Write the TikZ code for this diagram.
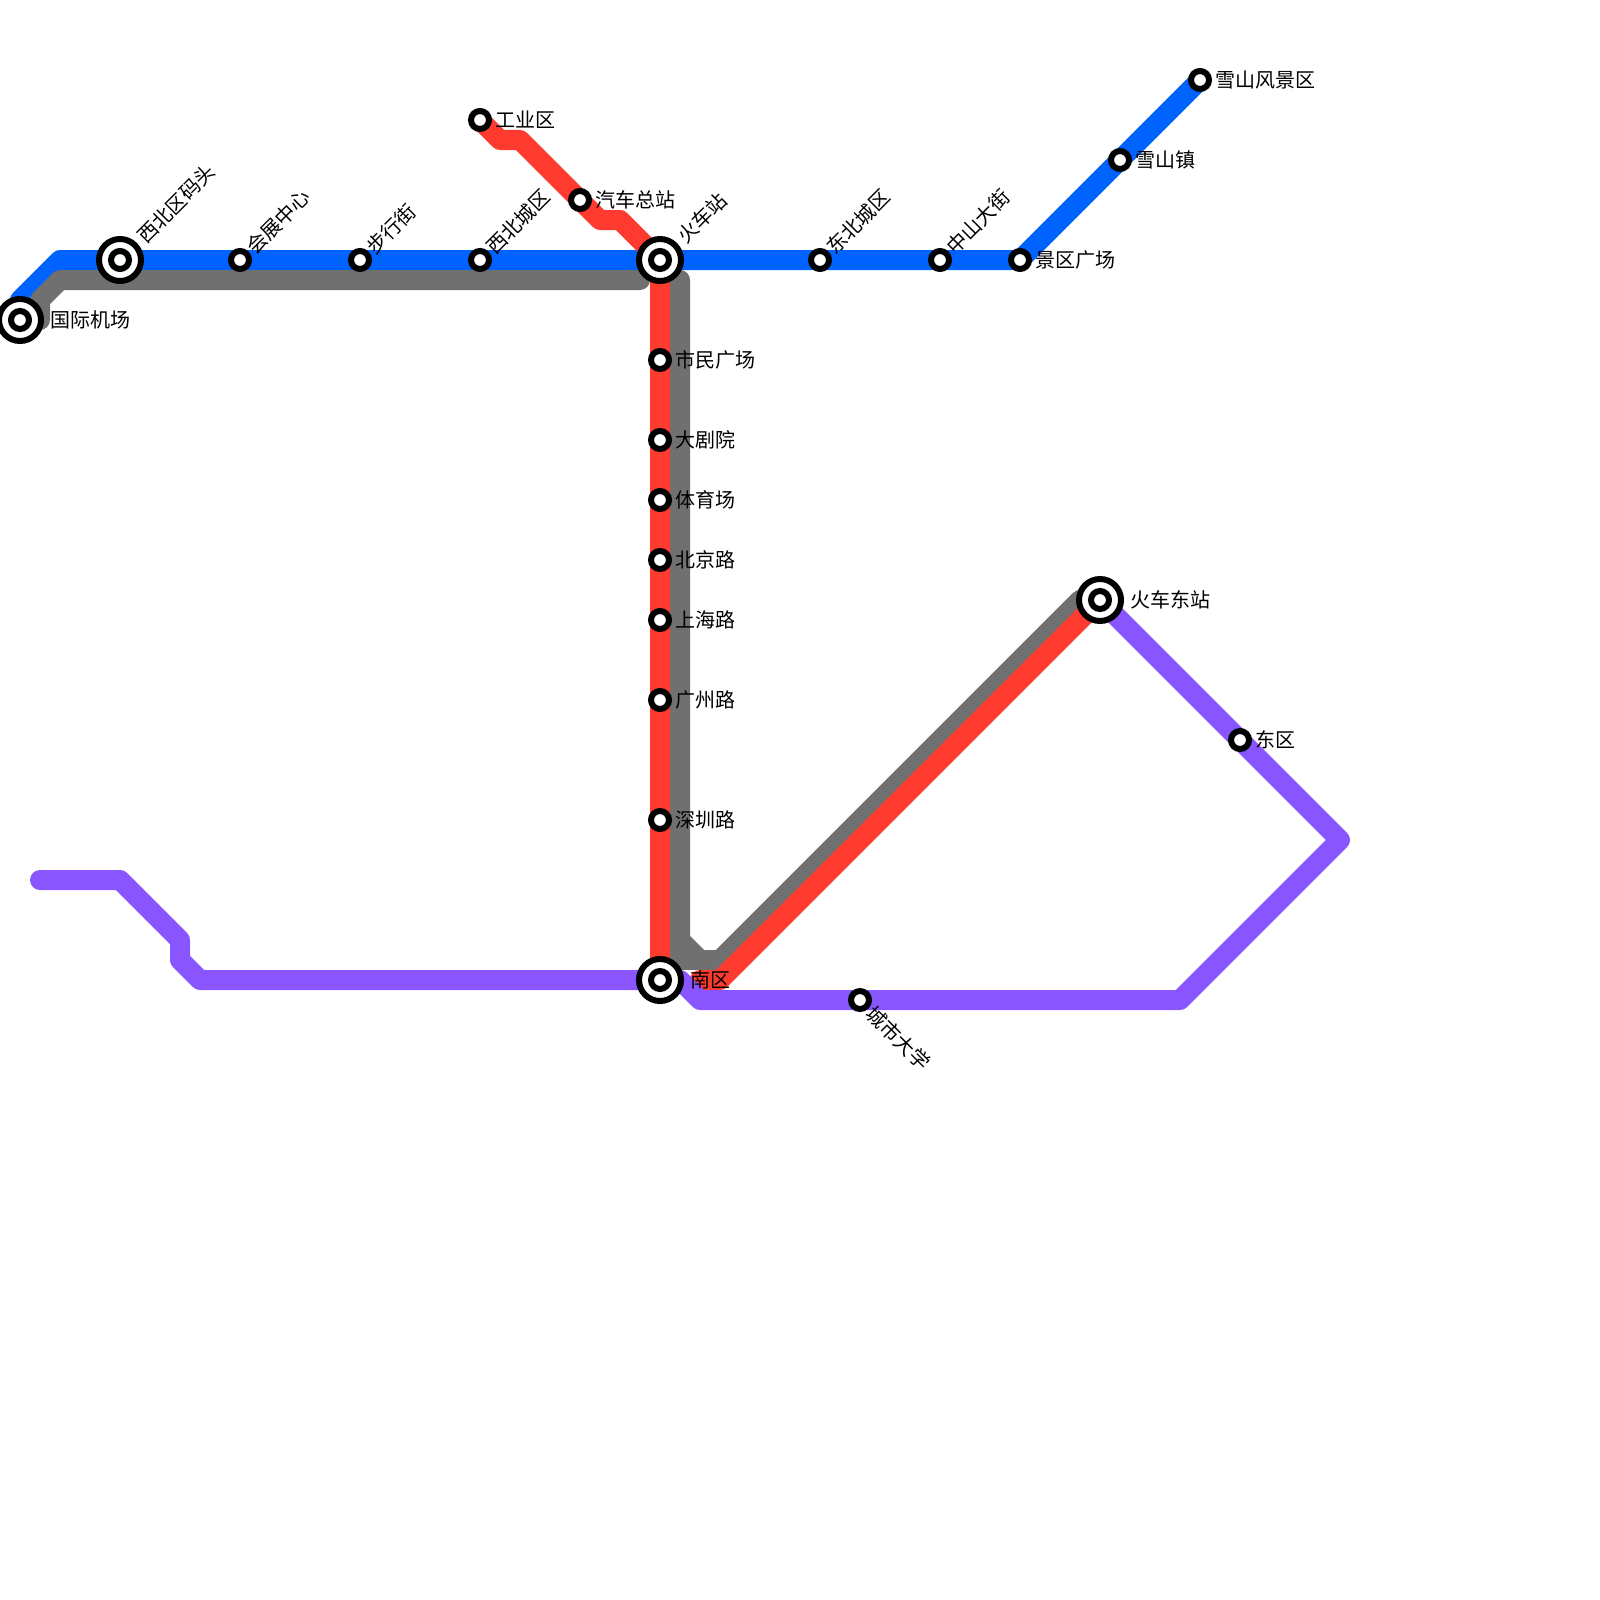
\documentclass[tikz,border=0pt]{standalone}
\usepackage{fontspec}
\setmainfont{Noto Sans CJK SC}
\definecolor{lblue}{HTML}{0062FF}
\definecolor{lred}{HTML}{FF3B30}
\definecolor{lgray}{HTML}{707070}
\definecolor{lpurple}{HTML}{8855FF}
\tikzset{
  metro/.style={line width=20pt,line cap=round,line join=round},
  stsmall/.style={circle,draw=black,fill=white,line width=6pt,minimum size=18pt,inner sep=0pt,outer sep=0pt},
  stbig/.style={circle,draw=black,fill=white,line width=6pt,minimum size=42pt,inner sep=0pt,outer sep=0pt},
  lab/.style={inner sep=0pt,outer sep=0pt,font=\fontsize{20}{24}\selectfont,text=black},
}
\newcommand{\stS}[2]{\node[stsmall] (#1) at (#2) {};}
\newcommand{\stB}[2]{\node[stbig] (#1) at (#2) {}; \node[stsmall] (#1c) at (#2) {};}
\begin{document}
\begin{tikzpicture}[x=1pt,y=-1pt]
\useasboundingbox (0,0) rectangle (1600,1600);
% anchors
\coordinate (ba) at (20,320); \coordinate (bb) at (20,300); \coordinate (bc) at (60,260);
\coordinate (bd) at (1020,260); \coordinate (be) at (1200,80);
\draw[metro,lblue] (ba) -- (bb) -- (bc) -- (bd) -- (be);
\coordinate (ga) at (40,320);\coordinate (gb) at (640,280);\coordinate (gc) at (680,280);
\coordinate (sb) at (1100,600);\coordinate (gd) at (1080,600);
\draw[metro,lgray] (ga) -- (40,300) -- (60,280) -- (gb);
\draw[metro,lgray] (gc) -- (680,940) -- (700,960) -- (720,960) -- (gd);
\draw[metro,lgray] (680,940) -- (680,960) -- (700,960);
\coordinate (ra) at (480,120);\coordinate (sa) at (660,260);\coordinate (sc) at (660,980);
\draw[metro,lred] (ra) -- (500,140) -- (520,140) -- (600,220) -- (620,220) -- (sa) -- (sc);
\coordinate (rb) at (700,980);
\draw[metro,lred] (rb) -- (720,980) -- (sb);
\coordinate (pa) at (40,880);\coordinate (pb) at (680,980);
\draw[metro,lpurple] (pa) -- (120,880) -- (180,940) -- (180,960) -- (200,980) -- (sc);
\draw[metro,lpurple] (pb) -- (700,1000) -- (1180,1000) -- (1340,840) -- (sb);
% stations
\stB{airport}{20,320}
\stB{wharf}{120,260}
\stB{rail}{660,260}
\stB{south}{660,980}
\stB{raile}{1100,600}
\stS{s1}{240,260}\stS{s2}{360,260}\stS{s3}{480,260}\stS{s4}{480,120}\stS{s5}{580,200}
\stS{s6}{820,260}\stS{s7}{940,260}\stS{s8}{1020,260}\stS{s9}{1120,160}\stS{s10}{1200,80}
\stS{v1}{660,360}\stS{v2}{660,440}\stS{v3}{660,500}\stS{v4}{660,560}\stS{v5}{660,620}\stS{v6}{660,700}\stS{v7}{660,820}
\stS{e1}{1240,740}\stS{e2}{860,1000}
% labels
\node[lab,anchor=west] (tairport) at ([xshift=30pt]airport.center) {国际机场};
\node[lab,anchor=west] (traile) at ([xshift=30pt]raile.center) {火车东站};
\node[lab,anchor=west] (tsouth) at ([xshift=30pt]south.center) {南区};
\node[lab,anchor=west,rotate=45] (twharf) at ([xshift=21pt,yshift=21pt]wharf.center) {西北区码头};
\node[lab,anchor=west,rotate=45] (trail) at ([xshift=21pt,yshift=21pt]rail.center) {火车站};
\foreach \n/\t in {s1/会展中心,s2/步行街,s3/西北城区,s6/东北城区,s7/中山大街}{
  \node[lab,anchor=west,rotate=45] (t\n) at ([xshift=10pt,yshift=10pt]\n.center) {\t};
}
\foreach \n/\t in {s4/工业区,s5/汽车总站,s8/景区广场,s9/雪山镇,s10/雪山风景区,v1/市民广场,v2/大剧院,v3/体育场,v4/北京路,v5/上海路,v6/广州路,v7/深圳路,e1/东区}{
  \node[lab,anchor=west] (t\n) at ([xshift=15pt]\n.center) {\t};
}
\node[lab,anchor=west,rotate=-45] (te2) at ([xshift=10pt,yshift=-10pt]e2.center) {城市大学};
\end{tikzpicture}
\end{document}
